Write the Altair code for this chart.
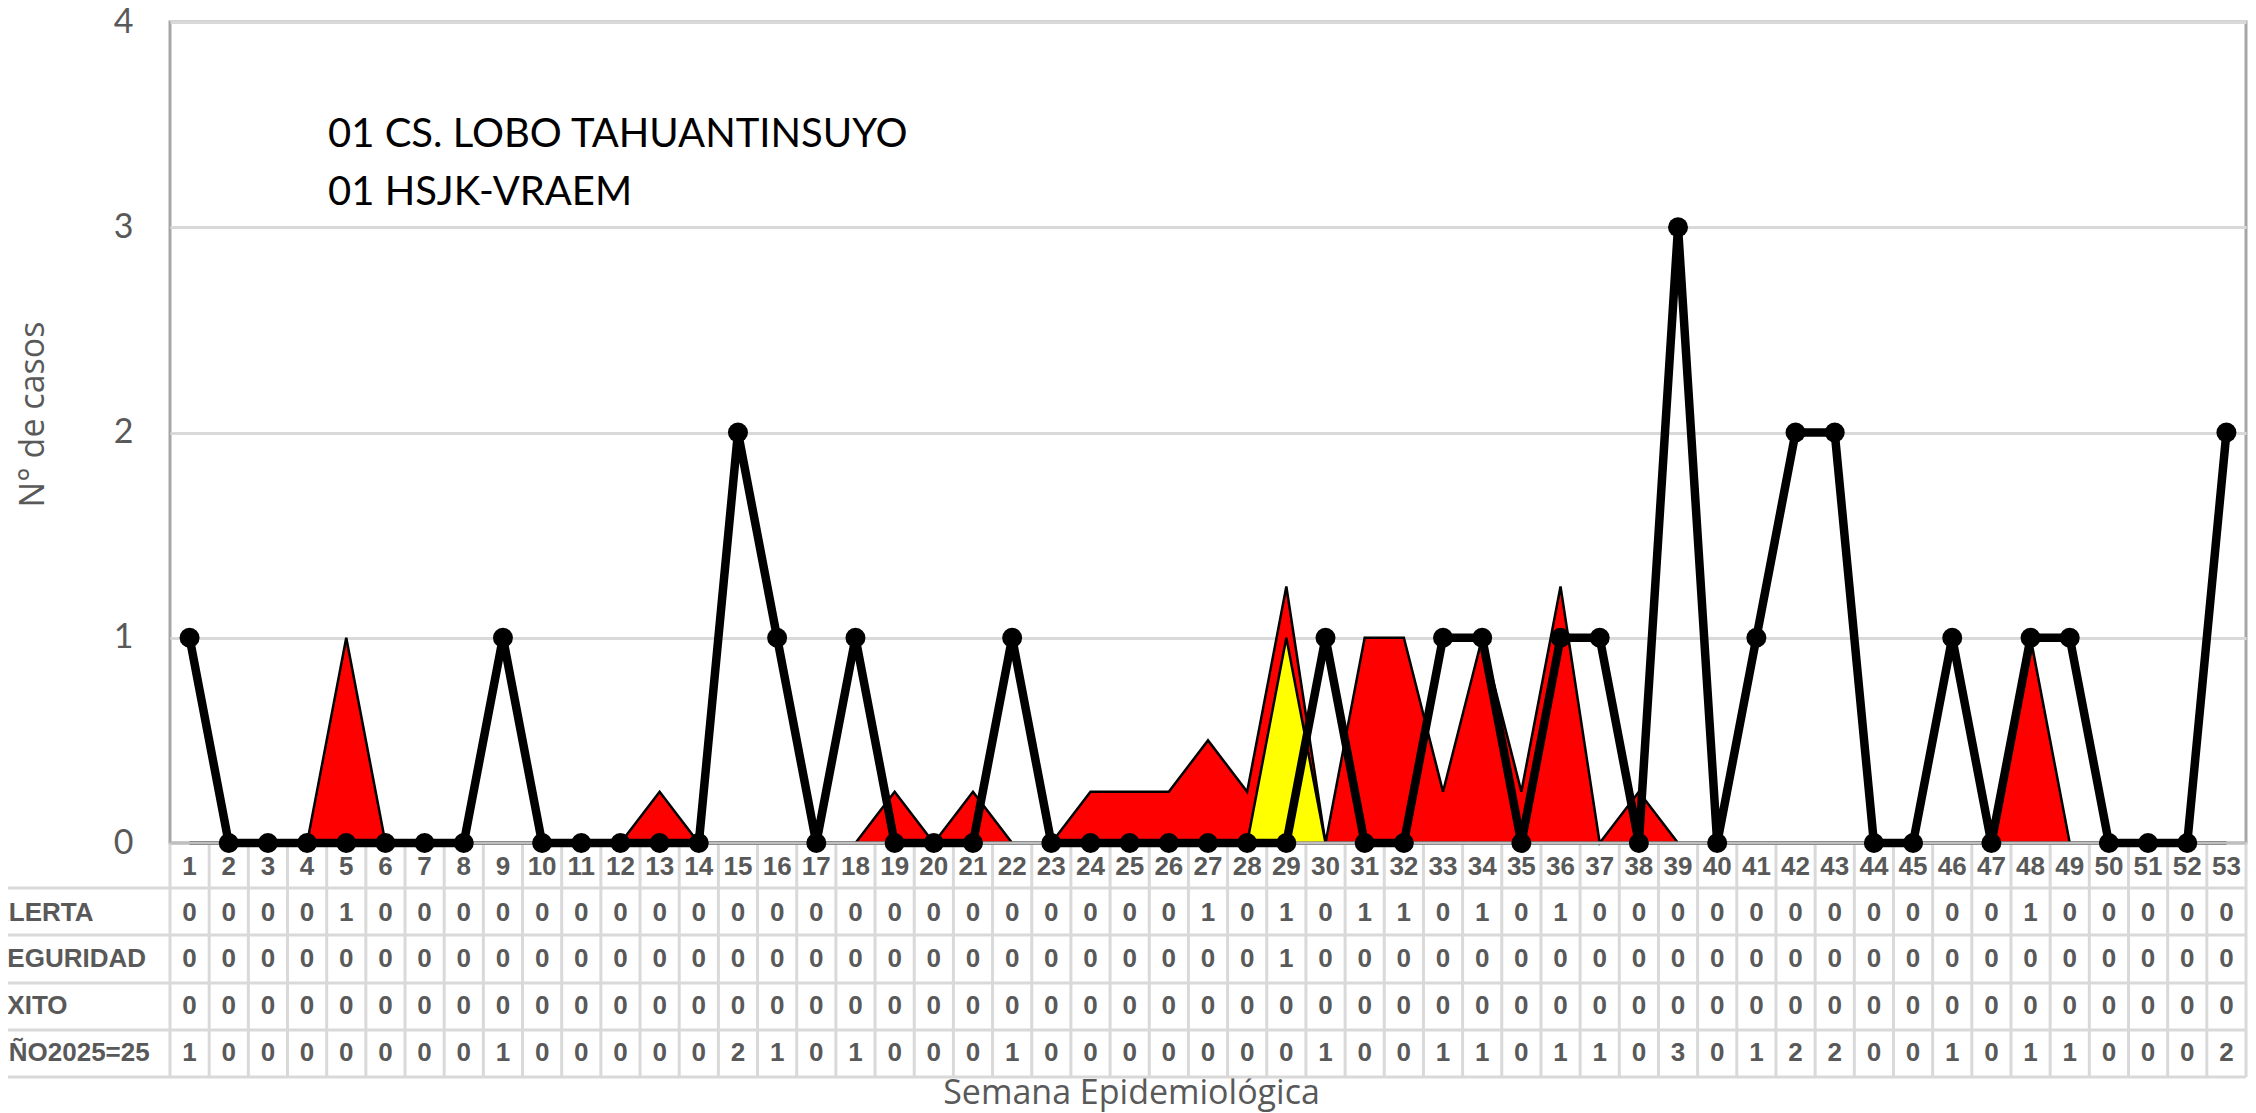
import altair as alt
import pandas as pd

# ---------------- data ----------------
semanas = list(range(1, 54))
alerta = [0, 0, 0, 0, 1, 0, 0, 0, 0, 0,
          0, 0, 0.25, 0, 0, 0, 0, 0, 0.25, 0,
          0.25, 0, 0, 0.25, 0.25, 0.25, 0.5, 0.25, 1.25, 0,
          1, 1, 0.25, 1, 0.25, 1.25, 0, 0.25, 0, 0,
          0, 0, 0, 0, 0, 0, 0, 1, 0, 0,
          0, 0, 0]
seguridad = [0, 0, 0, 0, 0, 0, 0, 0, 0, 0,
             0, 0, 0, 0, 0, 0, 0, 0, 0, 0,
             0, 0, 0, 0, 0, 0, 0, 0, 1, 0,
             0, 0, 0, 0, 0, 0, 0, 0, 0, 0,
             0, 0, 0, 0, 0, 0, 0, 0, 0, 0,
             0, 0, 0]
exito = [0, 0, 0, 0, 0, 0, 0, 0, 0, 0,
         0, 0, 0, 0, 0, 0, 0, 0, 0, 0,
         0, 0, 0, 0, 0, 0, 0, 0, 0, 0,
         0, 0, 0, 0, 0, 0, 0, 0, 0, 0,
         0, 0, 0, 0, 0, 0, 0, 0, 0, 0,
         0, 0, 0]
anio2025 = [1, 0, 0, 0, 0, 0, 0, 0, 1, 0,
            0, 0, 0, 0, 2, 1, 0, 1, 0, 0,
            0, 1, 0, 0, 0, 0, 0, 0, 0, 1,
            0, 0, 1, 1, 0, 1, 1, 0, 3, 0,
            1, 2, 2, 0, 0, 1, 0, 1, 1, 0,
            0, 0, 2]
filas = ["ALERTA", "SEGURIDAD", "ÉXITO", "AÑO2025=25"]
campos = ["alerta", "seguridad", "exito", "anio"]
y_ticks = [0, 1, 2, 3, 4]
anotacion = ["01 CS. LOBO TAHUANTINSUYO", "01 HSJK-VRAEM"]
titulo_x = "Semana Epidemiológica"
titulo_y = "N° de casos"

df = pd.DataFrame({"semana": semanas, "alerta": alerta, "seguridad": seguridad,
                   "exito": exito, "anio": anio2025})
bordes = pd.DataFrame({"semana": [s - 0.5 for s in semanas] + [semanas[-1] + 0.5]})
uno = pd.DataFrame({"k": [0]})

# ---------------- layout ----------------
W, H = 2076, 821
HEAD_Y = 845
ROW_Y = [891, 937, 984, 1031]
ROW_LINES = [866, 913, 961, 1008, 1055]
TABLE_BOTTOM = 1055
GRAY_TXT = "#595959"
GRID = "#D9D9D9"
AXIS_GRAY = "#A6A6A6"
UI_FONT = "Lato"
TITLE_FONT = "Open Sans"
TABLE_FONT = "Liberation Sans"
TABLE_SIZE = 26

xscale = alt.Scale(domain=[0.5, 53.5], nice=False, zero=False)
yscale = alt.Scale(domain=[0, 4], nice=False, zero=False)

xaxis = alt.Axis(labels=False, ticks=False, domain=False, grid=False,
                 title=titulo_x, titleFont=TITLE_FONT, titleFontSize=34,
                 titleFontWeight="normal", titleColor=GRAY_TXT,
                 titleX=961, titleY=1071 - H, titleAlign="center",
                 titleBaseline="middle", titleAnchor="start")
yaxis = alt.Axis(values=y_ticks, format="d", labelFont=UI_FONT, labelFontSize=34,
                 labelColor=GRAY_TXT, labelPadding=37, ticks=False, domain=False,
                 grid=True, gridColor=GRID, gridWidth=3,
                 title=titulo_y, titleFont=TITLE_FONT, titleFontSize=34,
                 titleFontWeight="normal", titleColor=GRAY_TXT,
                 titleX=-137, titleY=392, titleAlign="center",
                 titleBaseline="middle", titleAngle=270, titleAnchor="start")

X = alt.X("semana:Q", scale=xscale, axis=xaxis)


def Y(field):
    return alt.Y(f"{field}:Q", scale=yscale, axis=yaxis)


base = alt.Chart(df)
layers = []

# table grid lines
layers.append(alt.Chart(bordes).mark_rule(color=GRID, strokeWidth=3).encode(
    x=X, y=alt.value(H), y2=alt.value(TABLE_BOTTOM)))
for yl in ROW_LINES:
    layers.append(alt.Chart(uno).mark_rule(color=GRID, strokeWidth=3).encode(
        x=alt.value(-175), x2=alt.value(W), y=alt.value(yl)))

# areas (alerta behind, seguridad and exito in front)
layers.append(base.mark_area(fill="#FF0000", stroke="#000000", strokeWidth=2.5,
                             strokeJoin="miter").encode(x=X, y=Y("alerta")))
layers.append(base.mark_area(fill="#FFFF00", stroke="#000000", strokeWidth=2.5,
                             strokeJoin="miter").encode(x=X, y=Y("seguridad")))
layers.append(base.mark_area(fill="#00B050", stroke="#000000", strokeWidth=2.5
                             ).encode(x=X, y=Y("exito")))

# category axis line drawn over the areas
layers.append(alt.Chart(uno).mark_rule(color="#BFBFBF", strokeWidth=3).encode(
    x=alt.value(0), x2=alt.value(W), y=alt.value(H)))

# 2025 line + markers
layers.append(base.mark_line(color="#000000", strokeWidth=8.5).encode(x=X, y=Y("anio")))
layers.append(base.mark_circle(color="#000000", size=400, opacity=1).encode(
    x=X, y=Y("anio")))

# data table: header row (week numbers)
layers.append(base.mark_text(font=TABLE_FONT, fontSize=TABLE_SIZE, fontWeight="bold",
                             color=GRAY_TXT, baseline="middle").encode(
    x=X, y=alt.value(HEAD_Y), text=alt.Text("semana:Q", format="d")))
# data table rows
for nombre, campo, yc in zip(filas, campos, ROW_Y):
    layers.append(base.mark_text(font=TABLE_FONT, fontSize=TABLE_SIZE, fontWeight="bold",
                                 color=GRAY_TXT, baseline="middle").encode(
        x=X, y=alt.value(yc), text=alt.Text(f"{campo}:Q", format="d")))
    layers.append(alt.Chart(pd.DataFrame({"fila": [nombre]})).mark_text(
        font=TABLE_FONT, fontSize=TABLE_SIZE, fontWeight="bold", color=GRAY_TXT,
        align="left", baseline="middle").encode(
        x=alt.value(-180), y=alt.value(yc), text="fila:N"))

# annotation
layers.append(alt.Chart(pd.DataFrame({"t": ["\n".join(anotacion)]})).mark_text(
    font=UI_FONT, fontSize=40, color="#000000", align="left", baseline="alphabetic",
    lineBreak="\n", lineHeight=58).encode(
    x=alt.value(158), y=alt.value(125), text="t:N"))

chart = alt.layer(*layers).properties(
    width=W, height=H,
    autosize=alt.AutoSizeParams(type="none"),
    padding={"left": 162, "top": 14, "right": 2, "bottom": 270},
    background="white",
).configure_view(stroke=AXIS_GRAY, strokeWidth=3)

chart.save("out.html", embed_options={"renderer": "svg", "actions": False})
